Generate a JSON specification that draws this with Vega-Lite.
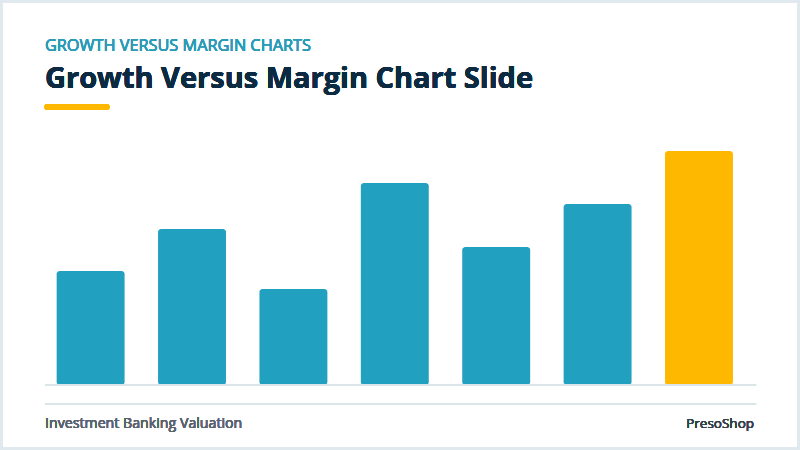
{
  "$schema": "https://vega.github.io/schema/vega-lite/v6.json",
  "width": 800,
  "height": 450,
  "autosize": "none",
  "padding": 0,
  "background": "white",
  "view": {"fill": "white", "stroke": "#e0eaee", "strokeWidth": 6},
  "config": {"font": "Open Sans"},
  "datasets": {
    "bars": [
      {"bar": "A", "value": 114, "group": "base"},
      {"bar": "B", "value": 156, "group": "base"},
      {"bar": "C", "value": 96, "group": "base"},
      {"bar": "D", "value": 202, "group": "base"},
      {"bar": "E", "value": 138, "group": "base"},
      {"bar": "F", "value": 181, "group": "base"},
      {"bar": "G", "value": 234, "group": "highlight"}
    ]
  },
  "data": {"name": "bars"},
  "layer": [
    {
      "mark": {"type": "bar", "cornerRadius": 3},
      "encoding": {
        "x": {
          "field": "bar",
          "type": "nominal",
          "axis": null,
          "scale": {"paddingInner": 0.33, "paddingOuter": 0.61, "align": 0.458}
        },
        "y": {
          "field": "value",
          "type": "quantitative",
          "axis": null,
          "scale": {"domain": [-65, 385], "nice": false, "zero": false}
        },
        "y2": {"datum": 0},
        "color": {
          "field": "group",
          "type": "nominal",
          "legend": null,
          "scale": {"domain": ["base", "highlight"], "range": ["#22a0bf", "#ffb800"]}
        }
      }
    },
    {
      "mark": {"type": "rule", "color": "#dbe5ea", "strokeWidth": 2},
      "encoding": {
        "x": {"datum": "A", "type": "nominal", "bandPosition": -0.172},
        "x2": {"datum": "G", "bandPosition": 1.34},
        "y": {"datum": 0, "type": "quantitative"}
      }
    },
    {
      "mark": {"type": "rule", "color": "#dbe5ea", "strokeWidth": 2},
      "encoding": {
        "x": {"datum": "A", "type": "nominal", "bandPosition": -0.172},
        "x2": {"datum": "G", "bandPosition": 1.34},
        "y": {"datum": -19, "type": "quantitative"}
      }
    },
    {
      "mark": {"type": "rule", "color": "#ffb800", "strokeWidth": 6, "strokeCap": "round"},
      "encoding": {
        "x": {"datum": "A", "type": "nominal", "bandPosition": -0.135},
        "x2": {"datum": "A", "bandPosition": 0.733},
        "y": {"datum": 278, "type": "quantitative"}
      }
    },
    {
      "mark": {"type": "text", "align": "left", "baseline": "alphabetic", "fontSize": 16.3, "fontWeight": 400, "color": "#2a9cb8", "text": "GROWTH VERSUS MARGIN CHARTS"},
      "encoding": {
        "x": {"datum": "A", "type": "nominal", "bandPosition": -0.172},
        "y": {"datum": 333.7, "type": "quantitative"}
      }
    },
    {
      "mark": {"type": "text", "align": "left", "baseline": "alphabetic", "fontSize": 29, "fontWeight": 700, "color": "#0c2b42", "text": "Growth Versus Margin Chart Slide"},
      "encoding": {
        "x": {"datum": "A", "type": "nominal", "bandPosition": -0.172},
        "y": {"datum": 296.7, "type": "quantitative"}
      }
    },
    {
      "mark": {"type": "text", "align": "left", "baseline": "middle", "fontSize": 14.2, "fontWeight": 400, "color": "#5a646e", "text": "Investment Banking Valuation"},
      "encoding": {
        "x": {"datum": "A", "type": "nominal", "bandPosition": -0.172},
        "y": {"datum": -39, "type": "quantitative"}
      }
    },
    {
      "mark": {"type": "text", "align": "right", "baseline": "middle", "fontSize": 13.5, "fontWeight": 500, "color": "#36414c", "text": "PresoShop"},
      "encoding": {
        "x": {"datum": "G", "type": "nominal", "bandPosition": 1.31},
        "y": {"datum": -39, "type": "quantitative"}
      }
    }
  ]
}
